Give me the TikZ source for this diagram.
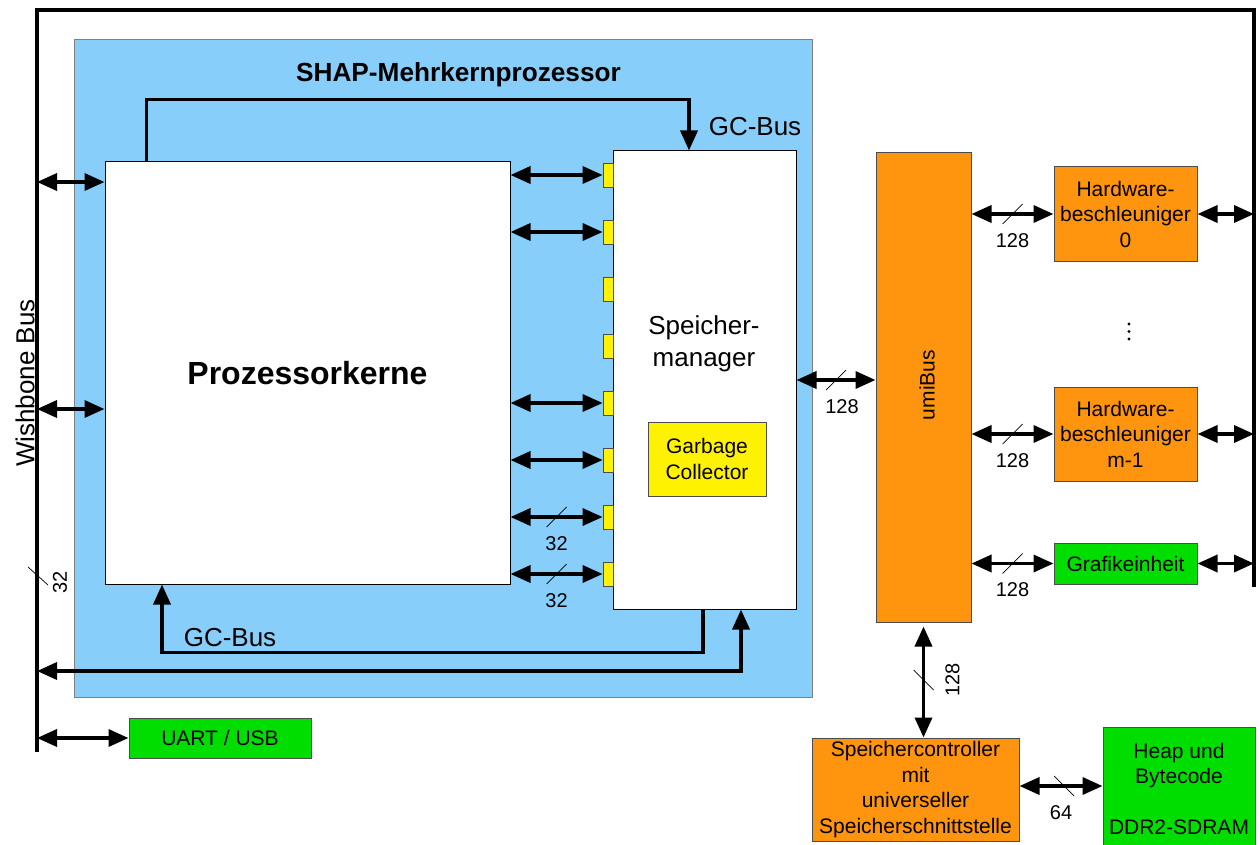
\documentclass[tikz,border=0pt]{standalone}
\usepackage{fontspec}
\setmainfont{Liberation Sans}
\usetikzlibrary{arrows.meta,calc}
\definecolor{shapblue}{RGB}{135,206,250}
\definecolor{umiorange}{RGB}{255,149,14}
\definecolor{unitgreen}{RGB}{0,222,0}
\tikzset{
  box/.style={draw=black!70, line width=1pt, inner sep=0pt, align=center, font=\fontsize{21}{25.5}\selectfont},
  whitebox/.style={box, draw=black, fill=white},
  orangebox/.style={box, fill=umiorange},
  greenbox/.style={box, fill=unitgreen},
  port/.style={draw=black!70, line width=0.8pt, fill=yellow, minimum width=10pt, minimum height=24pt, inner sep=0pt},
  bus/.style={line width=3.5pt, <->},
  gcbus/.style={line width=3.5pt, ->},
  wire/.style={line width=4pt},
  widthmark/.style={line width=0.7pt},
  buswidth/.style={font=\fontsize{20}{24}\selectfont, inner sep=0pt},
  biglabel/.style={font=\fontsize{26}{32}\selectfont, align=center, inner sep=0pt},
}
\begin{document}
\begin{tikzpicture}[x=1pt, y=-1pt, >={Triangle[length=20pt,width=17pt]}]
\useasboundingbox (0,0) rectangle (1260,845);
% Wishbone
\coordinate (wbbot) at (37,752);
\coordinate (wbtl) at (37,10);
\coordinate (wbtr) at (1254,10);
\coordinate (wbend) at (1254,587);
\draw[wire] (wbbot) -- (wbtl) -- (wbtr) -- (wbend);
\node[biglabel, rotate=90] (wblabel) at (25,383) {Wishbone Bus};
\coordinate (wbm) at (38,576);
\draw[widthmark] ($(wbm)+(-10,-9)$) -- ($(wbm)+(10,9)$);
\node[buswidth, rotate=90] (wbw) at (60,582) {32};

% SHAP
\node[fill=shapblue, draw=black!50, line width=1pt, minimum width=738pt, minimum height=657pt, inner sep=0pt] (shap) at (443,368.5) {};
\node[font=\bfseries\fontsize{26.2}{31}\selectfont] (title) at (458.5,74.5) {SHAP-Mehrkernprozessor};
\node[whitebox, minimum width=405pt, minimum height=422pt, font=\bfseries\fontsize{32}{38}\selectfont] (pk) at (307.5,373) {Prozessorkerne};
\node[whitebox, minimum width=183pt, minimum height=458pt] (sm) at (704.5,380) {};
\node[biglabel] (smlabel) at (704,344) {Speicher-\\manager};
\node[box, fill=yellow, minimum width=118pt, minimum height=74pt] (gc) at (707,459) {Garbage\\Collector};
\foreach \i in {1,...,8}
  \node[port] (p\i) at (608,{175+57*(\i-1)}) {};
\foreach \i in {1,2,5,6}
  \draw[bus] (pk.east |- p\i.west) -- (p\i.west);
\foreach \i in {7,8}{
  \draw[bus] (pk.east |- p\i.west) -- coordinate (m\i) (p\i.west);
  \draw[widthmark] ($(m\i)+(-10,10)$) -- ($(m\i)+(10,-10)$);
  \node[buswidth, below=19pt] at (m\i) {32};
}
\coordinate (wb1) at (37,182);
\coordinate (wb2) at (37,409);
\coordinate (wb3) at (37,671);
\draw[bus] (wb1) -- (wb1 -| pk.west);
\draw[bus] (wb2) -- (wb2 -| pk.west);
\draw[gcbus] ($(pk.north west)+(42,0)$) -- ++(0,-62) -| ([xshift=-15.5pt]sm.north);
\node[biglabel] (gctop) at (755,127) {GC-Bus};
\draw[gcbus] ([xshift=-1.5pt]sm.south) -- ++(0,43) -| ([xshift=-145.5pt]pk.south);
\node[biglabel] (gcbot) at (230,637.5) {GC-Bus};
\draw[bus] (wb3) -| ([xshift=36.5pt]sm.south);

\node[greenbox, minimum width=182pt, minimum height=40pt] (uart) at (220,738) {UART / USB};
\draw[bus] (uart.west -| wbbot) -- (uart.west);

% umiBus
\node[orangebox, minimum width=95pt, minimum height=469pt] (umi) at (923.5,387.5) {};
\node[box, draw=none, rotate=90] (umilabel) at (927,385) {umiBus};
\draw[bus] (sm.east) -- coordinate (m0) (sm.east -| umi.west);
\draw[widthmark] ($(m0)+(-10,10)$) -- ($(m0)+(10,-10)$);
\node[buswidth, below=19pt] at ($(m0)+(6,0)$) {128};

\node[orangebox, minimum width=143pt, minimum height=95pt] (hw0) at (1125.5,214) {Hardware-\\beschleuniger\\0};
\node[orangebox, minimum width=143pt, minimum height=94pt] (hwm) at (1125.5,434) {Hardware-\\beschleuniger\\m-1};
\node[greenbox, minimum width=143pt, minimum height=41pt] (gfx) at (1125.5,563.5) {Grafikeinheit};
\foreach \n in {hw0,hwm,gfx}{
  \draw[bus] (umi.east |- \n.west) -- coordinate (m\n) (\n.west);
  \draw[widthmark] ($(m\n)+(-10,10)$) -- ($(m\n)+(10,-10)$);
  \node[buswidth, below=19pt] at (m\n) {128};
  \draw[bus] (\n.east) -- (\n.east -| wbtr);
}
\foreach \k in {0,1,2}
  \fill (1129,{324+7.5*\k}) circle (1.6pt);

% Speicher
\node[orangebox, minimum width=207pt, minimum height=103pt] (sc) at (915.5,789.5) {Speichercontroller\\mit\\universeller\\Speicherschnittstelle};
\node[greenbox, minimum width=152pt, minimum height=124pt] (heap) at (1179,789) {Heap und\\Bytecode\\[25.5pt]DDR2-SDRAM};
\draw[bus, shorten <=4pt] (umi.south) -- coordinate (mumi) (umi.south |- sc.north);
\draw[widthmark] ($(mumi)+(-10,-10)$) -- ($(mumi)+(10,10)$);
\node[buswidth, rotate=90] at ($(mumi)+(29,0)$) {128};
\draw[bus] ([yshift=3.5pt]sc.east) -- coordinate (m64) ([yshift=3.5pt]sc.east -| heap.west);
\draw[widthmark] ($(m64)+(-7,-10)$) -- ($(m64)+(13,10)$);
\node[buswidth, below=19pt] at (m64) {64};
\end{tikzpicture}
\end{document}
